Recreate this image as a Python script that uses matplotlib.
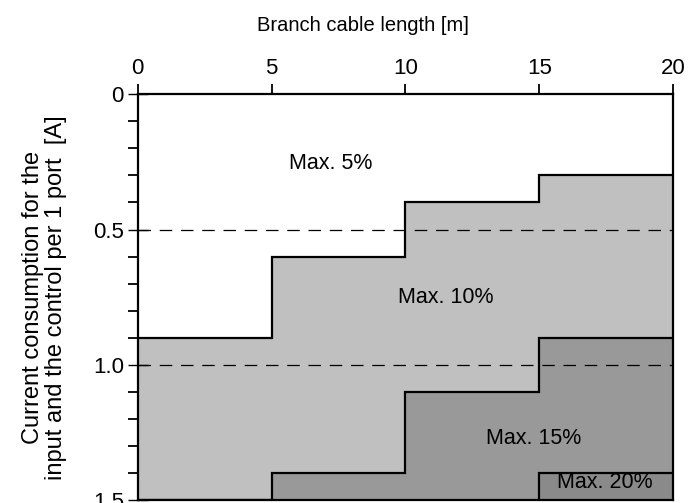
import matplotlib
matplotlib.use("Agg")
import matplotlib.pyplot as plt
from matplotlib.patches import Rectangle
from matplotlib.ticker import MultipleLocator

plt.rcParams['font.family'] = ['Liberation Sans', 'DejaVu Sans']

# cable length steps [m]
edges = [0, 5, 10, 15, 20]
# current limit for each zone, per 5 m step [A]
lim_5 = [0.9, 0.6, 0.4, 0.3]
lim_10 = [1.5, 1.4, 1.1, 0.9]
lim_15 = [1.4]           # only the last step, 15-20 m
edges_15 = [15, 20]

zone_labels = ["Max. 5%", "Max. 10%", "Max. 15%", "Max. 20%"]
label_x = [7.2, 11.5, 14.8, 17.45]
label_y = [0.255, 0.75, 1.27, 1.435]

y_ticks = [0, 0.5, 1.0, 1.5]
y_ticklabels = ["0", "0.5", "1.0", "1.5"]

fig = plt.figure(figsize=(6.89, 5.03), dpi=100)
ax = fig.add_axes([0.200, 0.005, 0.777, 0.808])

light = "#c0c0c0"
mid = "#999999"
dark = "#8a8a8a"

# shaded zones
ax.stairs(lim_10, edges, baseline=lim_5, fill=True, color=light, lw=0)
ax.stairs([1.5] * 4, edges, baseline=lim_10, fill=True, color=mid, lw=0)
ax.add_patch(Rectangle((edges_15[0], lim_15[0]), edges_15[1] - edges_15[0],
                       1.5 - lim_15[0], facecolor=dark, edgecolor="black",
                       lw=1.6, zorder=3))

# zone borders
ax.stairs(lim_5, edges, baseline=None, color="black", lw=1.6, zorder=3)
ax.stairs(lim_10, edges, baseline=None, color="black", lw=1.6, zorder=3)

for yv in [0.5, 1.0]:
    ax.axhline(yv, color="black", lw=0.9, dashes=(10, 7), zorder=2)

for t, x, y in zip(zone_labels, label_x, label_y):
    ax.text(x, y, t, ha="center", va="center", fontsize=15.5, zorder=4)

ax.set_xlim(0, 20)
ax.set_ylim(1.5, 0)
ax.xaxis.tick_top()
ax.xaxis.set_label_position("top")
ax.set_xticks(edges)
ax.set_yticks(y_ticks)
ax.set_yticklabels(y_ticklabels)
ax.yaxis.set_minor_locator(MultipleLocator(0.1))
ax.tick_params(axis="x", direction="out", length=7, width=1.3, labelsize=16, pad=4)
ax.tick_params(axis="y", which="major", direction="inout", length=14, width=1.0, labelsize=16, pad=3)
ax.tick_params(axis="y", which="minor", direction="out", length=7, width=1.3)
for s in ax.spines.values():
    s.set_linewidth(1.6)

ax.set_xlabel("Branch cable length [m]", fontsize=14.5)
ax.xaxis.set_label_coords(0.42, 1.155)
ax.set_ylabel("Current consumption for the\ninput and the control per 1 port  [A]",
              fontsize=17, linespacing=1.05)
ax.yaxis.set_label_coords(-0.133, 0.5)

fig.savefig("out.png", dpi=100)
